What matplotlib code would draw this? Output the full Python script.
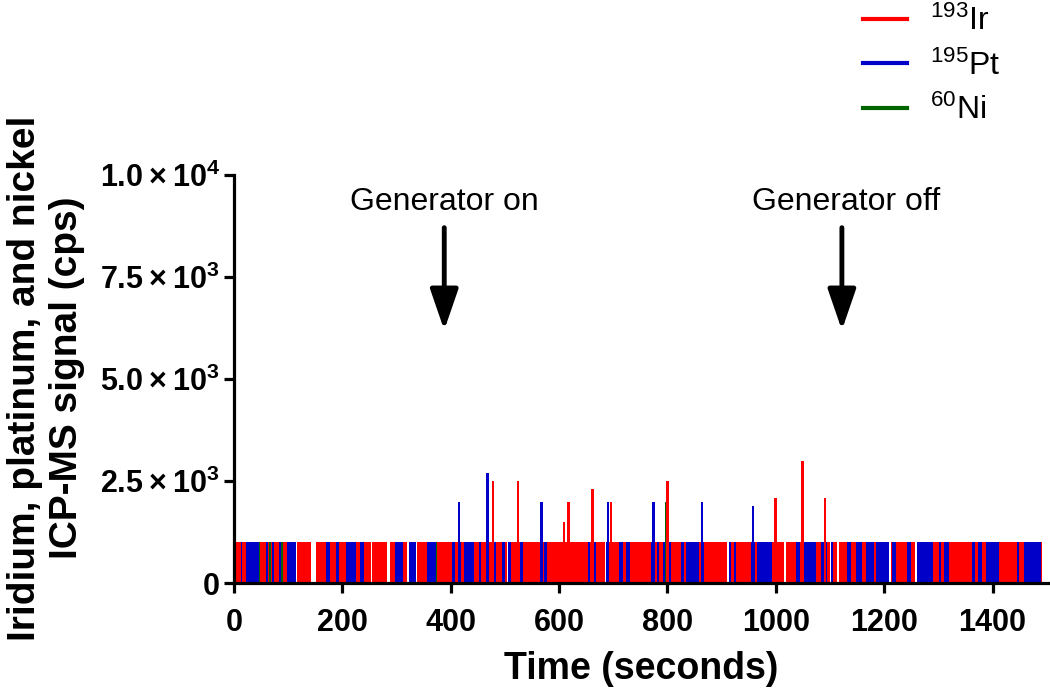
import matplotlib
matplotlib.use("Agg")
import matplotlib.pyplot as plt

plt.rcParams['font.family'] = ['Liberation Sans', 'DejaVu Sans']
plt.rcParams['mathtext.fontset'] = 'custom'
plt.rcParams['mathtext.rm'] = 'Liberation Sans'
plt.rcParams['mathtext.it'] = 'Liberation Sans:italic'
plt.rcParams['mathtext.bf'] = 'Liberation Sans:bold'

# ---------------- data ----------------
baseline_cps = 1000  # single-count level of the signal

# intervals (start, end) in seconds where each isotope read ~1000 cps
ir_start = [0, 117, 152, 255, 288, 323, 338.5, 506.4, 687.4, 913.8, 1019.6, 1102.7, 1116.8, 1212, 1260.3]
ir_end = [114, 141.5, 252, 283, 320, 335, 504.6, 685, 910.7, 1015.3, 1099.6, 1113.8, 1209, 1256.6, 1492]

pt_start = [0, 12.3, 22.8, 58.5, 69.5, 83, 98.5, 169.2, 188.9, 206.1, 232, 296.6, 323.1, 355.7,
            403.1, 413.5, 424.6, 452.3, 464.6, 476.9, 495.4, 506.4, 527.4, 564.3, 572.3, 615.4,
            654.1, 664.6, 687.4, 710.8, 723.1, 769.2, 781.5, 792.6, 803, 824.6, 833.8, 861.5,
            913.8, 923, 953.8, 964.9, 1036.8, 1052.2, 1083, 1102.7, 1132.2, 1147.6, 1166.1,
            1184.6, 1215, 1243, 1260.3, 1301.5, 1310.7, 1363, 1373.5, 1387.7, 1446.1, 1458.4]
pt_end = [4.3, 15.4, 46.1, 63.5, 73.8, 86.2, 113.8, 177.2, 193.8, 224.6, 240, 312.6, 335, 372.3,
          407.4, 419.7, 443.1, 455.4, 468.9, 483.1, 500.3, 510.7, 533.5, 568, 578.5, 619,
          656.6, 668.9, 692.3, 718.1, 730.4, 776.5, 784.6, 795, 806.1, 830.7, 858.4, 867.6,
          916.9, 926.1, 961.2, 993.8, 1044.2, 1073.8, 1095.3, 1105.8, 1138.4, 1159.9, 1181.5,
          1209, 1221.5, 1250.4, 1291, 1305.8, 1320, 1367.4, 1379.7, 1412.3, 1449.2, 1490.4]

ni_start = [46.1, 65, 86.5, 372.3]
ni_end = [48, 68, 90, 374.2]

# spikes above the single-count level (time s, cps)
pt_spike_t = [415, 468, 568, 690, 774, 864, 958]
pt_spike_cps = [2000, 2700, 2000, 2000, 2000, 2000, 1900]
ir_spike_t = [478, 524, 609, 617, 662, 696, 800, 999, 1049, 1091]
ir_spike_cps = [2500, 2500, 1500, 2000, 2300, 2000, 2500, 2100, 3000, 2100]
ni_spike_t = [796]
ni_spike_cps = [2000]

series_labels = [r'$^{193}$Ir', r'$^{195}$Pt', r'$^{60}$Ni']
series_colors = ['#FF0000', '#0000C8', '#006400']

x_ticks = [0, 200, 400, 600, 800, 1000, 1200, 1400]
y_ticks = [0, 2500, 5000, 7500, 10000]
y_tick_labels = ['0', '2.5\u2009×\u200910$^{\\mathbf{3}}$', '5.0\u2009×\u200910$^{\\mathbf{3}}$',
                 '7.5\u2009×\u200910$^{\\mathbf{3}}$', '1.0\u2009×\u200910$^{\\mathbf{4}}$']

event_t = [388, 1122]
event_labels = ['Generator on', 'Generator off']
event_text_t = [388, 1130]

# ---------------- plot ----------------
fig = plt.figure(figsize=(10.5, 6.89), dpi=100)
ax = fig.add_axes([0.2229, 0.1534, 0.776, 0.5926])

def ranges(s, e):
    return [(a, b - a) for a, b in zip(s, e)]

ir_c, pt_c, ni_c = series_colors
ax.plot([ir_start[0], ir_end[-1]], [0, 0], color=ir_c, lw=2, zorder=1)
ax.broken_barh(ranges(ir_start, ir_end), (0, baseline_cps), facecolors=ir_c, linewidth=0, zorder=1)
ax.broken_barh(ranges(pt_start, pt_end), (0, baseline_cps), facecolors=pt_c, linewidth=0, zorder=1.1)
ax.broken_barh(ranges(ni_start, ni_end), (0, baseline_cps), facecolors=ni_c, linewidth=0, zorder=1.2)

ax.bar(pt_spike_t, pt_spike_cps, width=5, color=pt_c, linewidth=0, zorder=1.3)
ax.bar(ir_spike_t, ir_spike_cps, width=5, color=ir_c, linewidth=0, zorder=1.4)
ax.bar(ni_spike_t, ni_spike_cps, width=2, color=ni_c, linewidth=0, zorder=1.2)

# legend handles
handles = [plt.Line2D([], [], color=c, lw=3) for c in series_colors]
fig.legend(handles, series_labels, loc='upper left', bbox_to_anchor=(0.822, 0.992),
           frameon=False, fontsize=23, handlelength=1.38, handletextpad=0.72,
           labelspacing=0.42, borderpad=0, borderaxespad=0)

ax.set_xlim(0, 1504)
ax.set_ylim(0, 10000)
ax.set_xticks(x_ticks)
ax.set_xticklabels([str(v) for v in x_ticks], fontsize=22, fontweight='bold')
ax.set_yticks(y_ticks)
ax.set_yticklabels(y_tick_labels, fontsize=22, fontweight='bold')

for s in ['top', 'right']:
    ax.spines[s].set_visible(False)
for s in ['left', 'bottom']:
    ax.spines[s].set_linewidth(2.3)
ax.tick_params(axis='both', direction='out', length=7, width=2.3)
ax.tick_params(axis='x', pad=11)
ax.tick_params(axis='y', pad=3)

ax.set_xlabel('Time (seconds)', fontsize=27, fontweight='bold')
ax.xaxis.set_label_coords(0.5, -0.165)
ax.set_ylabel('Iridium, platinum, and nickel\nICP-MS signal (cps)', fontsize=28,
              fontweight='bold', linespacing=1.2)
ax.yaxis.set_label_coords(-0.183, 0.503)

for t, tt, lab in zip(event_t, event_text_t, event_labels):
    ax.annotate('', xy=(t, 6200), xytext=(t, 8710),
                arrowprops=dict(arrowstyle='-|>,head_length=1.25,head_width=0.43',
                                lw=3.5, color='black', mutation_scale=20,
                                shrinkA=0, shrinkB=0))
    ax.text(tt, 9330, lab, fontsize=23, ha='center', va='center')

fig.savefig('out.png', dpi=100)
